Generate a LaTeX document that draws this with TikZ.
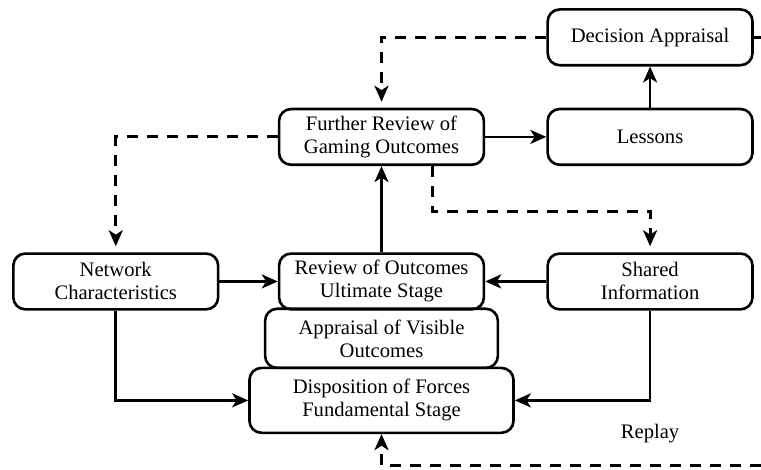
\documentclass[tikz,border=0pt]{standalone}
\usepackage{fontspec}
\setmainfont{Liberation Serif}
\usetikzlibrary{arrows.meta,positioning}

\begin{document}
\begin{tikzpicture}[node distance=3cm,on grid,
	stage/.style={draw, line width=1.3pt, rounded corners=6pt, align=center,
		minimum width=3.6cm, minimum height=0.98cm, inner sep=1pt,
		font=\fontsize{10.3}{11.5}\selectfont},
	post/.style={line width=1.3pt, -{Stealth[length=8pt,width=7pt,inset=2.2pt]}},
	back/.style={post, line width=1.5pt, dash pattern=on 5.5pt off 4.5pt}]

		\useasboundingbox (0,0) rectangle (13.373,8.259);

		% Review of outcomes
		\node[stage] (review) at (6.704,3.313) {Review of Outcomes\\Ultimate Stage};

		% Network characteristics
		\node[stage,
			left = 4.67cm of review] (network) {Network\\Characteristics};

		% Shared information
		\node[stage,
			right = 4.72cm of review] (shared) {Shared\\Information};

		% Appraisal of visible outcomes
		\node[stage,
			minimum width=4.09cm,
			minimum height=1.04cm,
			below = 1cm of review] (appraisal) {Appraisal of Visible\\Outcomes};

		% Disposition of forces
		\node[stage,
			minimum width=4.64cm,
			minimum height=1.14cm,
			below = 1.09cm of appraisal] (disposition) {Disposition of Forces\\Fundamental Stage};

		% Further review
		\node[stage,
			above = 2.54cm of review] (further) {Further Review of\\Gaming Outcomes};

		% Lessons
		\node[stage,
			right = 4.72cm of further] (lessons) {Lessons};

		% Decision appraisal
		\node[stage,
			above = 1.75cm of lessons] (decision) {Decision Appraisal};

		% Replay
		\node[font=\fontsize{10.3}{11.5}\selectfont,
			below = 2.68cm of shared] (replay) {Replay};

		% loose ends at the border
		\coordinate (decout) at (decision.east -| 13.373,0);
		\coordinate (replayin) at (13.373,0.08);

		\draw (review) edge[post] (further)
		(further) edge[post] (lessons)
		(lessons) edge[post] (decision)
		(network) edge[post] (review)
		(shared) edge[post] (review)
		;
		\draw[post] (network.south) |- (disposition.west);
		\draw[post] (shared.south) |- (disposition.east);

		\draw[back, shorten >=3pt] (decision.west) -| (further.north);
		\draw[back, shorten >=3pt] (further.west) -| (network.north);
		\draw[back, shorten >=3pt] ([xshift=0.89cm]further.south) -- ++(0,-0.79) -| (shared.north);
		\draw[back, -] (decision.east) -- (decout);
		\draw[back] (replayin) -| (disposition.south);
	\end{tikzpicture}
\end{document}
